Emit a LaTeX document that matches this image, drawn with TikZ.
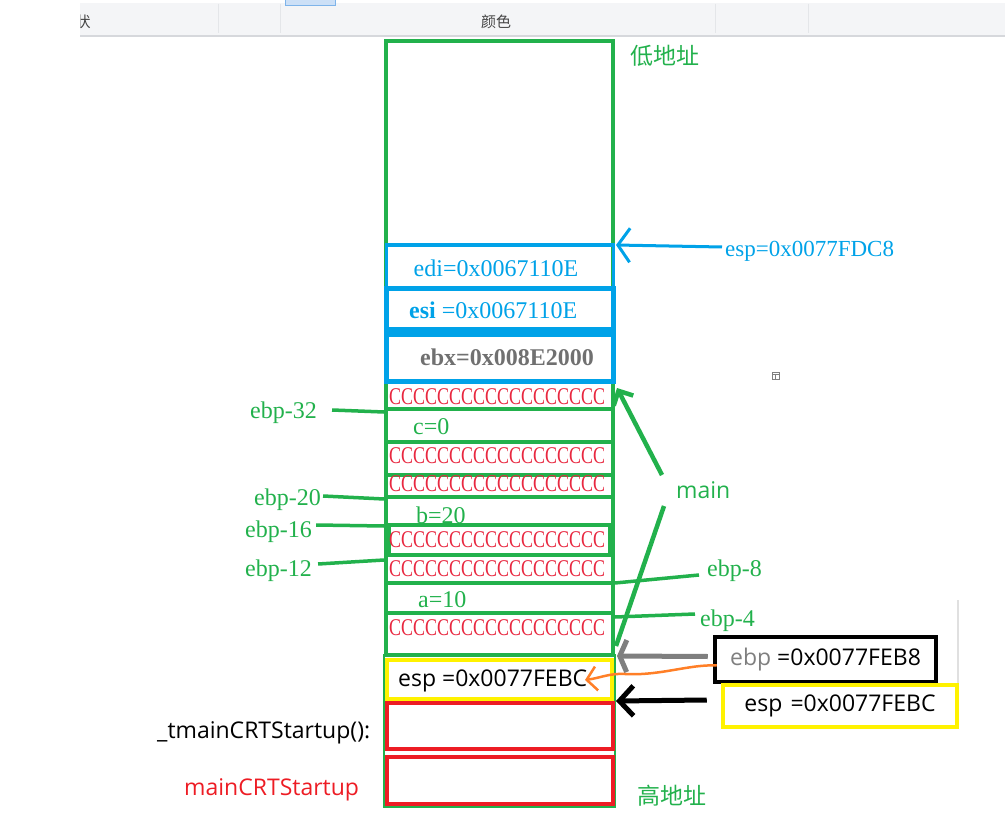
\documentclass[tikz,border=0pt]{standalone}
\usepackage{fontspec}
\usepackage{graphicx}
\setmainfont{Liberation Serif}
\newfontfamily\sansf{Open Sans}
\newfontfamily\cjkf{Noto Sans CJK SC}
\usetikzlibrary{arrows.meta}
\definecolor{pgreen}{RGB}{34,177,76}
\definecolor{pblue}{RGB}{0,162,232}
\definecolor{pred}{RGB}{237,28,36}
\definecolor{ptext}{RGB}{232,40,64}
\definecolor{pyellow}{RGB}{255,242,0}
\definecolor{porange}{RGB}{255,127,39}
\definecolor{pgray}{RGB}{127,127,127}
\definecolor{ebxgray}{RGB}{112,112,112}
\definecolor{hdrbg}{RGB}{244,245,247}
\definecolor{hdrline}{RGB}{214,216,220}
\definecolor{hdrsep}{RGB}{228,230,233}
\definecolor{hdrtext}{RGB}{68,68,68}
\definecolor{tabfill}{RGB}{204,224,247}
\definecolor{tabline}{RGB}{126,180,234}
\newcommand\Crow{\resizebox{216pt}{\height}{CCCCCCCCCCCCCCCCCC}}
\begin{document}
\begin{tikzpicture}[x=1pt,y=-1pt,
  serif/.style={inner sep=0pt, font=\fontsize{24}{28}\selectfont},
  glbl/.style={serif, anchor=west, text=pgreen},
  crow/.style={serif, text=ptext},
  sanst/.style={inner sep=0pt, anchor=west, font=\sansf\fontsize{23}{27}\selectfont},
  cjkt/.style={inner sep=0pt, anchor=west, font=\cjkf\fontsize{23}{27}\selectfont, text=pgreen},
  gline/.style={draw=pgreen, line width=3.5pt},
  rowline/.style={draw=pgreen, line width=4pt},
  bluebox/.style={draw=pblue, line width=5pt},
  hdrt/.style={inner sep=0pt, text=hdrtext, font=\cjkf\fontsize{15}{18}\selectfont},
]
\useasboundingbox (0,0) rectangle (1005,832);

% ---- header bar ----
\fill[hdrbg] (80,3) rectangle (1005,36);
\draw[hdrline, line width=1.5pt] (80,36) -- (1005,36);
\foreach \x in {218,280,715,808} \draw[hdrsep, line width=1pt] (\x,4) -- (\x,33);
\draw[fill=tabfill, draw=tabline, line width=1pt] (285,-1) rectangle (335,6);
\begin{scope}
  \clip (80,3) rectangle (1005,36);
  \node[hdrt] (h1) at (83,22) {状};
\end{scope}
\node[hdrt] (h2) at (496,22) {颜色};

% ---- stack frame ----
\draw[pgreen, line width=4.5pt] (386,41) rectangle (613,655);
\foreach \y in {409,442,475,497,525,555,583,613} \draw[rowline] (386,\y) -- (613,\y);
\draw[pgreen, line width=4pt] (389,525) rectangle (610,555);
\draw[pblue, line width=3pt] (386,245) rectangle (613,287);
\draw[bluebox] (386,288) rectangle (613,329);
\draw[bluebox] (386,334) rectangle (613,381);
\draw[pgreen, line width=1.2pt] (384,655) rectangle (615,807);
\draw[pyellow, line width=4pt] (387,660) rectangle (612,699);
\draw[pred, line width=4.5pt] (387,703) rectangle (613,749);
\draw[pred, line width=4.5pt] (387,757) rectangle (613,804);

% ---- texts inside the stack ----
\node[serif, text=pblue] (edil) at (496,268) {edi=0x0067110E};
\node[serif, anchor=west, text=pblue] (esil) at (409,310) {\textbf{esi} =0x0067110E};
\node[serif, text=ebxgray] (ebxl) at (507,357) {\textbf{ebx=0x008E2000}};
\node[crow] (c1) at (497,397) {\Crow};
\node[glbl] (vc) at (413,427) {c=0};
\node[crow] (c3) at (497,456) {\Crow};
\node[crow] (c4) at (497,484) {\Crow};
\node[glbl] (vb) at (416,515) {b=20};
\node[crow] (c6) at (497,540) {\Crow};
\node[crow] (c7) at (497,569) {\Crow};
\node[glbl] (va) at (418,600) {a=10};
\node[crow] (c9) at (497,628) {\Crow};
\node[sanst] (espin) at (398,681) {esp =0x0077FEBC};

% ---- address labels ----
\node[cjkt] (low) at (630,56) {低地址};
\node[cjkt] (high) at (637,796) {高地址};

% ---- left offsets ----
\node[glbl] (l32) at (250,413) {ebp-32};
\node[glbl] (l20) at (254,500) {ebp-20};
\node[glbl] (l16) at (245,532) {ebp-16};
\node[glbl] (l12) at (245,571) {ebp-12};
\coordinate (e32) at (384,412);
\coordinate (e20) at (384,499);
\coordinate (e16) at (384,526);
\coordinate (e12) at (384,560);
\draw[gline] ([shift={(15,-3)}]l32.east) -- (e32);
\draw[gline] ([shift={(2,-4)}]l20.east) -- (e20);
\draw[gline] ([shift={(4,-7)}]l16.east) -- (e16);
\draw[gline] ([shift={(6,-7)}]l12.east) -- (e12);

% ---- right offsets ----
\node[glbl] (l8) at (707,571) {ebp-8};
\node[glbl] (l4) at (700,621) {ebp-4};
\coordinate (e8) at (615,583);
\coordinate (e4) at (615,617);
\draw[gline] ([shift={(-8,4)}]l8.west) -- (e8);
\draw[gline] ([shift={(-5,-7)}]l4.west) -- (e4);

% ---- main ----
\node[sanst, text=pgreen] (mainl) at (676,490) {main};
\coordinate (mtop) at (617,388);
\coordinate (mbot) at (616,646);
\draw[pgreen, line width=4.5pt, -{Straight Barb[length=11pt,width=22pt]}] ([shift={(-14,-15)}]mainl.west) -- (mtop);
\draw[pgreen, line width=4.5pt] ([shift={(-12,16)}]mainl.west) -- (mbot);

% ---- esp top ----
\node[serif, anchor=west, text=pblue, font=\fontsize{23}{27}\selectfont] (espl) at (725,251) {esp=0x0077FDC8};
\coordinate (tipblue) at (616,245);
\draw[pblue, line width=3pt, -{Straight Barb[length=12pt,width=34pt]}] ([shift={(-3,-4)}]espl.west) -- (tipblue);

% ---- register boxes on the right ----
\node[draw=black, line width=4.5pt, minimum width=221pt, minimum height=45pt, inner sep=0pt,
      font=\sansf\fontsize{23}{27}\selectfont] (ebpbox) at (825.5,659.5) {\textcolor{pgray}{ebp} =0x0077FEB8};
\node[draw=pyellow, line width=4.5pt, minimum width=234pt, minimum height=42pt, inner sep=0pt,
      font=\sansf\fontsize{23}{27}\selectfont] (espbox) at (840,706) {esp\hspace{0.35em}=0x0077FEBC};

\coordinate (gtip) at (617,656);
\coordinate (otip) at (585,680);
\coordinate (btip) at (616,701);
\draw[pgray, line width=5pt, -{Straight Barb[length=7pt,width=32pt]}] ([shift={(-5,-3)}]ebpbox.west) -- (gtip);
\draw[porange, line width=2.5pt, -{Straight Barb[length=10pt,width=24pt]}]
  ([shift={(4,6)}]ebpbox.west) .. controls (690,664) and (660,676) .. (625,674)
  .. controls (610,673) and (600,678) .. (otip);
\draw[black, line width=5pt, -{Straight Barb[length=14pt,width=30pt]}] ([shift={(-14,-6)}]espbox.west) -- (btip);

% ---- left function labels ----
\node[sanst] (tmain) at (157,733) {\_tmainCRTStartup():};
\node[sanst, text=pred] (mcrt) at (184,790) {mainCRTStartup};

% ---- small extras ----
\draw[black!12, line width=1.5pt] (958,600) -- (958,683);
\draw[gray, line width=0.8pt] (772,372) rectangle (779,379);
\draw[gray, line width=0.8pt] (772,374.5) -- (779,374.5) (775.5,374.5) -- (775.5,379);
\end{tikzpicture}
\end{document}
